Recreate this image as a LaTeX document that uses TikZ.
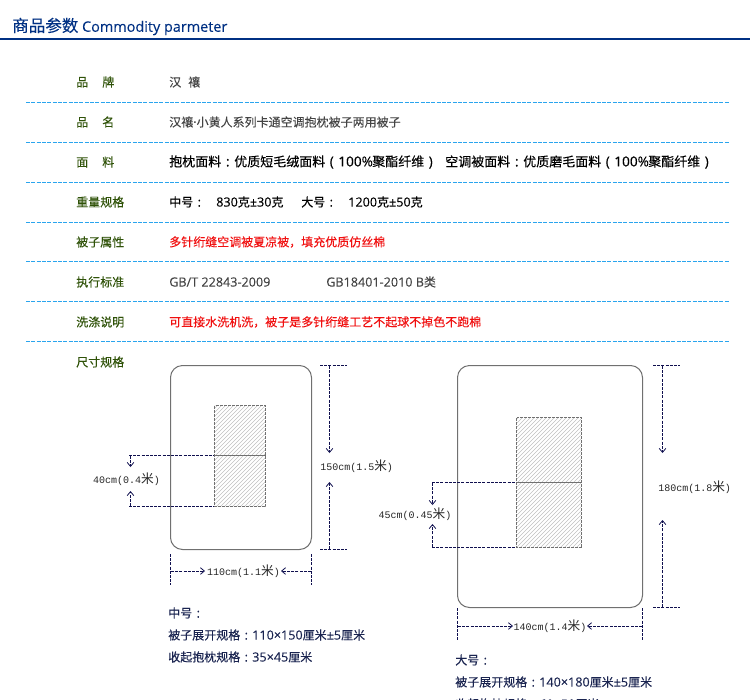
\documentclass[tikz,border=0pt]{standalone}
\usepackage{fontspec}
\setmainfont{Noto Sans CJK SC}[FakeBold=0.2]
\newfontfamily\latinf{Open Sans}[FakeBold=0.12,Scale=1.05]
\newfontfamily\dimf{Liberation Mono}
\newfontfamily\dimc{Noto Sans CJK SC}
\newcommand{\nm}[1]{{\latinf #1}}
\newcommand{\fc}{\makebox[1em][c]{\nm{:}}}
\newcommand{\fo}{\makebox[1em][c]{\nm{(}}}
\newcommand{\fp}{\makebox[1em][c]{\nm{)}}}
\newcommand{\dimtext}[1]{{\dimf #1}{\dimc\fontsize{9.5}{9}\selectfont 米}{\dimf )}}
\usetikzlibrary{arrows.meta}
\definecolor{rowline}{HTML}{2AA5EE}
\definecolor{headblue}{HTML}{003083}
\definecolor{labgreen}{HTML}{2F5208}
\definecolor{valgray}{HTML}{444444}
\definecolor{redtxt}{HTML}{F01010}
\definecolor{navy}{HTML}{10104F}
\definecolor{quilt}{HTML}{707070}
\definecolor{specblue}{HTML}{1A2450}
\tikzset{
 x=0.75pt,y=-0.75pt,
 rowsep/.style={draw=rowline,line width=0.75pt,dash pattern=on 3pt off 1pt},
 lab/.style={anchor=west,inner sep=0,text=labgreen,font=\fontsize{9}{9}\selectfont},
 val/.style={anchor=west,inner sep=0,text=valgray,font=\fontsize{9}{9}\selectfont},
 valb/.style={anchor=west,inner sep=0,text=black,font=\fontsize{9}{9}\selectfont},
 valr/.style={anchor=west,inner sep=0,text=redtxt,font=\fontsize{9}{9}\selectfont},
 spec/.style={anchor=west,inner sep=0,text=specblue,font=\fontsize{9}{9}\selectfont},
 dimt/.style={inner sep=0,text=black!85,font=\fontsize{7.5}{8}\selectfont},
 quiltbox/.style={draw=quilt,line width=0.75pt,rounded corners=9pt},
 pillow/.style={draw=quilt,line width=0.75pt,dash pattern=on 2.25pt off 0.75pt},
 hatchline/.style={draw=black!25,line width=0.4pt},
 dimline/.style={draw=navy,line width=0.75pt,dash pattern=on 2.25pt off 0.9pt},
 dimarrow/.style={dimline,-{Straight Barb[length=3pt,width=5pt,line width=0.6pt]}},
}
\begin{document}
\begin{tikzpicture}
\useasboundingbox (0,0) rectangle (750,700);
\clip (0,0) rectangle (750,700);
% header
\node[anchor=west,inner sep=0,text=headblue,font=\fontsize{12.4}{12}\selectfont] (head) at (12,26.5) {商品参数 {\latinf\fontsize{10.3}{11}\selectfont Commodity parmeter}};
\draw[headblue,line width=1.5pt] (0,38.8) -- (750,38.8);
% row separators
\foreach \yy in {102.5,142.5,182.5,222.5,261.5,301.5,341.5}{
 \path[rowsep] (26,\yy) -- (729,\yy);
}
% labels
\node[lab] (l1) at (76,82) {品\hspace{1.17em}牌};
\node[lab] (l2) at (76,122) {品\hspace{1.17em}名};
\node[lab] (l3) at (76,162) {面\hspace{1.17em}料};
\node[lab] (l4) at (76,202) {重量规格};
\node[lab] (l5) at (76,242) {被子属性};
\node[lab] (l6) at (76,282) {执行标准};
\node[lab] (l7) at (76,322) {洗涤说明};
\node[lab] (l8) at (76,362) {尺寸规格};
% values
\node[val] (v1) at (169,82) {汉\hspace{0.58em}禳};
\node[val] (v2) at (169,122) {汉禳\nm{·}小黄人系列卡通空调抱枕被子两用被子};
\node[valb,font=\fontsize{9.75}{10}\selectfont] (v3a) at (169,162) {抱枕面料\fc 优质短毛绒面料\fo};
\node[valb,font=\fontsize{9.75}{10}\selectfont] (v3b) at (338,162) {\makebox[25.5pt][l]{\nm{100\%}}聚酯纤维\fp};
\node[valb,font=\fontsize{9.75}{10}\selectfont] (v3c) at (445,162) {空调被面料\fc 优质磨毛面料\fo};
\node[valb,font=\fontsize{9.75}{10}\selectfont] (v3d) at (614,162) {\makebox[25.5pt][l]{\nm{100\%}}聚酯纤维\fp};
\node[valb] (v4a) at (169,202) {中号\fc};
\node[valb] (v4b) at (216,202) {\nm{830}克\nm{±30}克};
\node[valb] (v4c) at (301,202) {大号\fc};
\node[valb] (v4d) at (348,202) {\nm{1200}克\nm{±50}克};
\node[valr] (v5) at (169,242) {多针绗缝空调被夏凉被，填充优质仿丝棉};
\node[val] (v6a) at (169,282) {\nm{GB/T 22843-2009}};
\node[val] (v6b) at (326,282) {\nm{GB18401-2010 B}类};
\node[valr] (v7) at (169,322) {可直接水洗机洗，被子是多针绗缝工艺不起球不掉色不跑棉};
% medium quilt
\coordinate (mq1) at (170.5,365.5);
\coordinate (mq2) at (311.5,549.5);
\draw[quiltbox] (mq1) rectangle (mq2);
\begin{scope}
 \clip (214.5,405.5) rectangle (265.5,506.5);
 \foreach \i in {-110,-106,...,60}{ \path[hatchline] (214.5+\i,506.5) -- ++(110,-110); }
\end{scope}
\path[pillow] (214.5,405.5) rectangle (265.5,506.5);
\draw[quilt,line width=0.75pt] (214.5,455.5) -- (265.5,455.5);
\path[dimline] (129,455.5) -- (214,455.5);
\path[dimline] (129,506.5) -- (214,506.5);
\path[dimarrow] (130.5,456) -- (130.5,467);
\path[dimarrow] (130.5,506) -- (130.5,491);
\node[dimt] (m40) at (126.5,479.5) {\dimtext{40cm(0.4}};
\path[dimline] (320,365.5) -- (347,365.5);
\path[dimline] (320,549.5) -- (347,549.5);
\path[dimarrow] (329.5,366) -- (329.5,453);
\path[dimarrow] (329.5,549) -- (329.5,482);
\node[dimt,anchor=west] (m150) at (320,466.5) {\dimtext{150cm(1.5}};
\path[dimline] (170.5,554) -- (170.5,585);
\path[dimline] (311.5,554) -- (311.5,585);
\path[dimarrow] (171,571) -- (205,571);
\path[dimarrow] (311,571) -- (281,571);
\node[dimt] (m110) at (243.5,571) {\dimtext{110cm(1.1}};
% large quilt
\coordinate (lq1) at (457.5,365.5);
\coordinate (lq2) at (642.5,607.5);
\draw[quiltbox] (lq1) rectangle (lq2);
\begin{scope}
 \clip (516.5,417.5) rectangle (581.5,547.5);
 \foreach \i in {-140,-136,...,70}{ \path[hatchline] (516.5+\i,547.5) -- ++(140,-140); }
\end{scope}
\path[pillow] (516.5,417.5) rectangle (581.5,547.5);
\draw[quilt,line width=0.75pt] (516.5,482.5) -- (581.5,482.5);
\path[dimline] (432,482.5) -- (516,482.5);
\path[dimline] (432,547.5) -- (516,547.5);
\path[dimarrow] (432.5,483) -- (432.5,505);
\path[dimarrow] (432.5,547) -- (432.5,524);
\node[dimt] (l45) at (415,514.5) {\dimtext{45cm(0.45}};
\path[dimline] (653,365.5) -- (680,365.5);
\path[dimline] (653,607.5) -- (680,607.5);
\path[dimarrow] (662.5,366) -- (662.5,453);
\path[dimarrow] (662.5,607) -- (662.5,520);
\node[dimt,anchor=west] (l180) at (658,487.5) {\dimtext{180cm(1.8}};
\path[dimline] (457.5,608) -- (457.5,640);
\path[dimline] (642.5,608) -- (642.5,640);
\path[dimarrow] (458,626) -- (513,626);
\path[dimarrow] (642,626) -- (587,626);
\node[dimt] (l140) at (550,626) {\dimtext{140cm(1.4}};
% notes
\node[spec] (s1) at (168,613) {中号\fc};
\node[spec] (s2) at (168,635) {被子展开规格\fc\nm{110×150}厘米\nm{±5}厘米};
\node[spec] (s3) at (168,657) {收起抱枕规格\fc\nm{35×45}厘米};
\node[spec] (s4) at (455,660) {大号\fc};
\node[spec] (s5) at (455,682) {被子展开规格\fc\nm{140×180}厘米\nm{±5}厘米};
\node[spec] (s6) at (455,704) {收起抱枕规格\fc\nm{60×50}厘米};
\end{tikzpicture}
\end{document}
